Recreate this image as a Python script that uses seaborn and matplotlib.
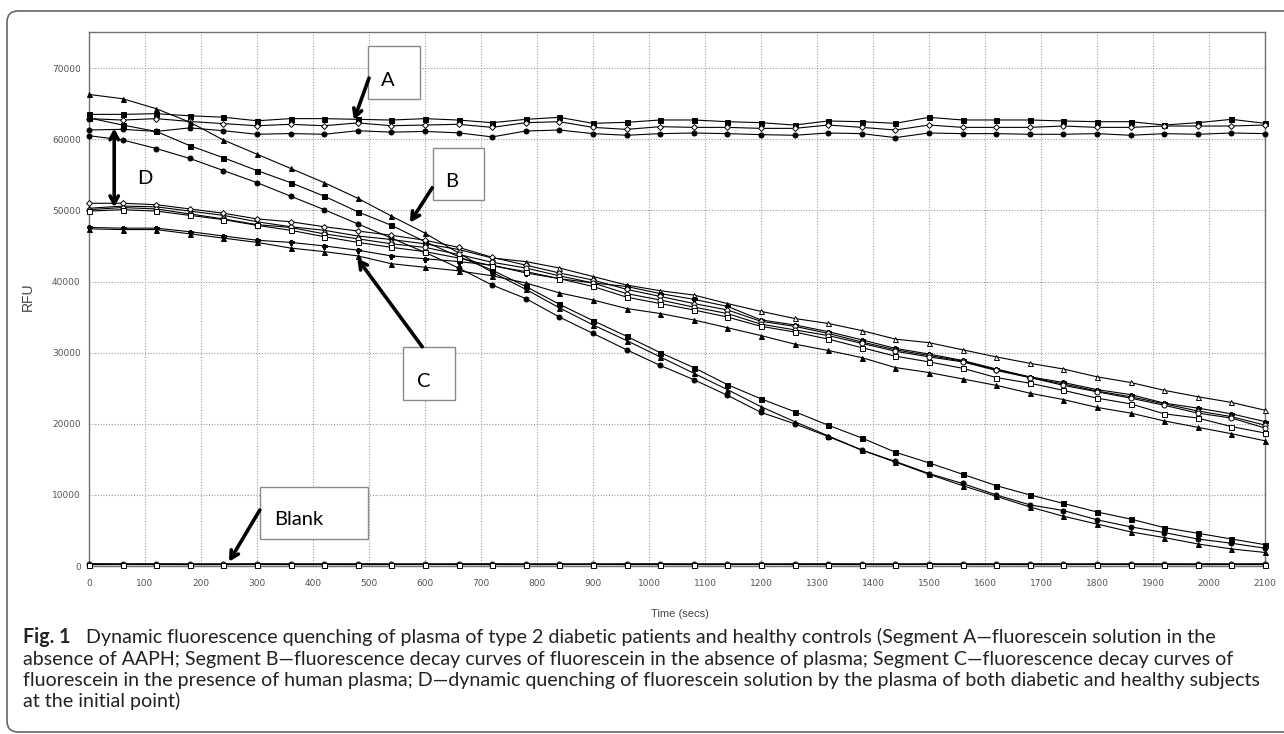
import matplotlib
matplotlib.use("Agg")
import matplotlib.pyplot as plt
import matplotlib.transforms as mtransforms
from matplotlib.patches import Rectangle, FancyBboxPatch
from matplotlib.ticker import MultipleLocator
import seaborn as sns

# Time points (secs)
time_secs = [0, 60, 120, 180, 240, 300, 360, 420, 480, 540, 600, 660,
             720, 780, 840, 900, 960, 1020, 1080, 1140, 1200, 1260, 1320, 1380,
             1440, 1500, 1560, 1620, 1680, 1740, 1800, 1860, 1920, 1980, 2040, 2100]

# Segment A - fluorescein without AAPH
a_square = [63500, 63500, 63600, 63300, 63100, 62600, 62900, 62900, 62800, 62700, 62900, 62700,
            62330, 62800, 63080, 62240, 62380, 62710, 62710, 62470, 62330, 62000, 62570, 62470,
            62240, 63080, 62710, 62710, 62710, 62570, 62470, 62470, 62000, 62330, 62800, 62240]
a_diamond = [62900, 62700, 62900, 62500, 62200, 61900, 62100, 61900, 62300, 61900, 62000, 62100,
             61670, 62330, 62470, 61670, 61390, 61770, 61670, 61670, 61530, 61530, 62000, 61670,
             61300, 62000, 61670, 61670, 61670, 61860, 61670, 61670, 61860, 61860, 61860, 62000]
a_circle = [61300, 61400, 61100, 61600, 61200, 60700, 60800, 60700, 61200, 61000, 61100, 60900,
            60330, 61160, 61300, 60790, 60560, 60790, 60880, 60790, 60650, 60560, 60880, 60790,
            60230, 60880, 60790, 60790, 60700, 60700, 60790, 60560, 60790, 60700, 60880, 60790]

# Segment B - decay without plasma
b_triangle = [66300, 65700, 64300, 62400, 59900, 57900, 55900, 53900, 51700, 49200, 46800, 44000,
              41300, 38900, 36300, 33900, 31700, 29400, 27100, 24800, 22400, 20300, 18300, 16300,
              14600, 12900, 11300, 9800, 8300, 7000, 5900, 4800, 4000, 3100, 2400, 1900]
b_square = [63000, 62000, 61100, 59100, 57400, 55600, 53900, 52000, 49800, 47900, 45600, 43500,
            41600, 39300, 36800, 34500, 32300, 30000, 27900, 25500, 23500, 21700, 19800, 18000,
            16000, 14500, 12900, 11300, 10000, 8800, 7600, 6600, 5400, 4600, 3800, 3000]
b_circle = [60500, 59900, 58700, 57300, 55600, 53900, 52000, 50100, 48100, 46100, 44100, 41900,
            39500, 37600, 35000, 32700, 30400, 28200, 26200, 24000, 21600, 20000, 18200, 16300,
            14700, 13000, 11600, 10000, 8600, 7800, 6500, 5500, 4700, 3800, 3200, 2500]

# Segment C - decay with human plasma
c_open_triangle = [50300, 50600, 50500, 49900, 49300, 48400, 47700, 47200, 46400, 45900, 45300, 44500,
                   43300, 42800, 41900, 40700, 39500, 38700, 38100, 36900, 35800, 34800, 34100, 33100,
                   31900, 31400, 30400, 29400, 28500, 27700, 26600, 25800, 24700, 23800, 23000, 21900]
c_plus = [47600, 47500, 47500, 47000, 46400, 45800, 45500, 45000, 44400, 43600, 43200, 42800,
          42300, 41200, 40400, 39800, 39300, 38300, 37500, 36500, 34600, 33900, 32950, 31800,
          30600, 29800, 28900, 27700, 26600, 25800, 24800, 24100, 22900, 22200, 21400, 20300]
c_open_diamond = [51000, 51000, 50800, 50200, 49600, 48800, 48400, 47700, 47100, 46500, 45800, 44800,
                  43400, 42300, 41200, 40200, 38900, 37900, 36900, 36000, 34400, 33700, 32700, 31500,
                  30400, 29600, 28800, 27600, 26500, 25600, 24600, 23800, 22800, 21800, 21000, 19800]
c_open_circle = [50100, 50400, 50200, 49500, 48800, 48000, 47600, 46700, 46000, 45300, 44800, 43800,
                 42700, 41900, 40800, 39800, 38300, 37400, 36400, 35500, 34000, 33200, 32400, 31300,
                 30200, 29400, 28700, 27500, 26500, 25400, 24500, 23600, 22600, 21500, 20800, 19400]
c_open_square = [49900, 50100, 49900, 49300, 48700, 47900, 47200, 46300, 45500, 44800, 44200, 43300,
                 42200, 41400, 40400, 39300, 37800, 36900, 36000, 35000, 33700, 32900, 31900, 30700,
                 29500, 28700, 27800, 26500, 25700, 24700, 23600, 22800, 21400, 20800, 19600, 18700]
c_triangle = [47400, 47300, 47300, 46700, 46100, 45500, 44700, 44200, 43600, 42500, 42000, 41500,
              40800, 39800, 38400, 37400, 36200, 35500, 34600, 33500, 32400, 31200, 30300, 29300,
              27900, 27200, 26300, 25400, 24300, 23400, 22300, 21500, 20400, 19500, 18600, 17600]

# Blank
blank_circle = [320, 300, 310, 300, 300, 310, 300, 300, 310, 300, 290, 300,
                310, 300, 300, 290, 300, 310, 300, 300, 290, 300, 310, 300,
                300, 300, 290, 300, 310, 300, 300, 300, 290, 300, 300, 310]
blank_triangle = [260, 250, 260, 250, 240, 250, 260, 250, 250, 240, 250, 260,
                  250, 250, 240, 250, 260, 250, 250, 240, 250, 260, 250, 250,
                  240, 250, 260, 250, 250, 250, 240, 250, 260, 250, 250, 250]
blank_square = [200, 210, 200, 190, 200, 210, 200, 200, 190, 200, 210, 200,
                200, 190, 200, 210, 200, 200, 190, 200, 210, 200, 200, 190,
                200, 210, 200, 200, 190, 200, 210, 200, 200, 190, 200, 200]

# series -> (marker, filled)
series = [
    (a_square, "s", True), (a_diamond, "D", False), (a_circle, "o", True),
    (b_triangle, "^", True), (b_square, "s", True), (b_circle, "o", True),
    (c_open_triangle, "^", False), (c_plus, "P", True), (c_open_diamond, "D", False),
    (c_open_circle, "o", False), (c_open_square, "s", False), (c_triangle, "^", True),
    (blank_circle, "o", False), (blank_triangle, "^", False), (blank_square, "s", False),
]

W, H = 1284, 734
sns.set_style("white")
plt.rcParams["font.family"] = ["DejaVu Sans"]

fig = plt.figure(figsize=(W / 100, H / 100), dpi=100)
ax = fig.add_axes([89 / W, 1 - 566 / H, (1265 - 89) / W, (566 - 32) / H])

for vals, mk, filled in series:
    ms = 3.6 if mk != "D" else 3.0
    sns.lineplot(x=time_secs, y=vals, ax=ax, color="black", lw=0.8,
                 marker=mk, markersize=ms, markeredgecolor="black",
                 markerfacecolor="black" if filled else "white",
                 markeredgewidth=0.7, clip_on=False, zorder=3)

ax.set_xlim(0, 2100)
ax.set_ylim(0, 75080)
ax.xaxis.set_major_locator(MultipleLocator(100))
ax.xaxis.set_minor_locator(MultipleLocator(50))
ax.yaxis.set_major_locator(MultipleLocator(10000))
ax.yaxis.set_minor_locator(MultipleLocator(2000))
ax.set_yticks(range(0, 70001, 10000))
ax.grid(True, which="major", linestyle=(0, (1, 1.5)), color="#9c9c9c", lw=0.8)
ax.tick_params(which="major", length=3, color="#777777", labelsize=6.5,
               labelcolor="#555555")
ax.tick_params(axis="x", which="major", pad=6)
ax.tick_params(axis="y", which="major", pad=3)
ax.tick_params(which="minor", length=2, color="#777777")
for s in ax.spines.values():
    s.set_color("#707070")
    s.set_linewidth(1.0)
ax.set_xlabel("")
ax.set_ylabel("")

fig.text(28 / W, 1 - 297 / H, "RFU", rotation=90, ha="center", va="center",
         fontsize=10, color="#444444", family=["Liberation Sans", "DejaVu Sans"])
fig.text(680 / W, 1 - 614 / H, "Time (secs)", ha="center", va="center",
         fontsize=8, color="#444444", family=["Liberation Sans", "DejaVu Sans"])


# annotation boxes (data coords)
def label_box(x0, x1, y0, y1, text, tx, ty):
    ax.add_patch(Rectangle((x0, y0), x1 - x0, y1 - y0, facecolor="white",
                           edgecolor="#8a8a8a", lw=1.0, zorder=5))
    ax.text(tx, ty, text, fontsize=14.5, family=["Lato", "DejaVu Sans"],
            ha="center", va="center", color="black", zorder=6)


def arrow(tail, tip, style="->,head_length=0.55,head_width=0.3"):
    ax.annotate("", xy=tip, xytext=tail, zorder=7,
                arrowprops=dict(arrowstyle=style, lw=2.6, color="black",
                                shrinkA=0, shrinkB=0))


label_box(498, 591, 65660, 73110, "A", 534, 68300)
arrow((500, 68600), (473, 62700))
label_box(614, 705, 51460, 58770, "B", 648, 54100)
arrow((613, 53190), (573, 48270))
label_box(560, 653, 23340, 30830, "C", 598, 26000)
arrow((595, 30830), (479, 43260))
label_box(305, 498, 3800, 11110, "Blank", 375, 6600)
arrow((305, 7870), (250, 600))
arrow((45, 61540), (45, 50430), style="<->,head_length=0.55,head_width=0.3")
ax.text(99, 54500, "D", fontsize=14.5, family=["Lato", "DejaVu Sans"],
        ha="center", va="center", color="black", zorder=6)

# outer rounded frame
frame = FancyBboxPatch((7, 2), 1330, 721, boxstyle="round,pad=0,rounding_size=11",
                       transform=mtransforms.IdentityTransform(),
                       facecolor="none", edgecolor="#666666", lw=1.2)
fig.add_artist(frame)

# caption
cap_rest1 = ("Dynamic fluorescence quenching of plasma of type 2 diabetic patients and "
             "healthy controls (Segment A\u2014fluorescein solution in the")
cap2 = ("absence of AAPH; Segment B\u2014fluorescence decay curves of fluorescein in the "
        "absence of plasma; Segment C\u2014fluorescence decay curves of")
cap3 = ("fluorescein in the presence of human plasma; D\u2014dynamic quenching of fluorescein "
        "solution by the plasma of both diabetic and healthy subjects")
cap4 = "at the initial point)"
cap_font = ["Lato", "DejaVu Sans"]
renderer = fig.canvas.get_renderer()
t3 = fig.text(23 / W, 1 - 686 / H, cap3, fontsize=12, family=cap_font,
              va="baseline", color="#222222")
w3 = t3.get_window_extent(renderer).width
fs = 12 * (1235 / w3)
t3.set_fontsize(fs)
fig.text(23 / W, 1 - 643 / H, "Fig. 1", fontsize=fs, family=cap_font,
         weight="bold", va="baseline", color="#222222")
fig.text(86 / W, 1 - 643 / H, cap_rest1, fontsize=fs, family=cap_font,
         va="baseline", color="#222222")
fig.text(23 / W, 1 - 665 / H, cap2, fontsize=fs, family=cap_font,
         va="baseline", color="#222222")
fig.text(23 / W, 1 - 707 / H, cap4, fontsize=fs, family=cap_font,
         va="baseline", color="#222222")

fig.savefig("out.png", dpi=100)
